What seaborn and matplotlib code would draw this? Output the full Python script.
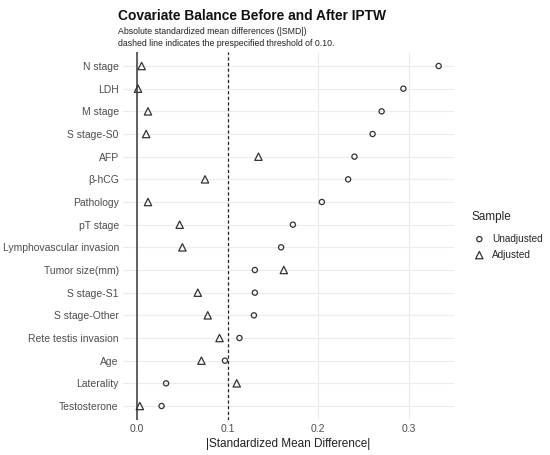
import matplotlib
matplotlib.use("Agg")
import matplotlib.pyplot as plt
import seaborn as sns
import pandas as pd

covariates = ["N stage", "LDH", "M stage", "S stage-S0", "AFP", "β-hCG", "Pathology",
              "pT stage", "Lymphovascular invasion", "Tumor size(mm)", "S stage-S1",
              "S stage-Other", "Rete testis invasion", "Age", "Laterality", "Testosterone"]
unadjusted = [0.333, 0.294, 0.270, 0.260, 0.240, 0.233, 0.204, 0.172, 0.159, 0.130,
              0.130, 0.129, 0.113, 0.097, 0.032, 0.027]
adjusted = [0.005, 0.001, 0.012, 0.010, 0.134, 0.075, 0.012, 0.047, 0.050, 0.162,
            0.067, 0.078, 0.091, 0.071, 0.110, 0.003]
x_ticks = [0.0, 0.1, 0.2, 0.3]
x_tick_labels = ["0.0", "0.1", "0.2", "0.3"]
threshold = 0.10

df = pd.DataFrame({
    "Covariate": covariates * 2,
    "SMD": unadjusted + adjusted,
    "Sample": ["Unadjusted"] * len(covariates) + ["Adjusted"] * len(covariates),
})

sns.set_theme(style="white")
plt.rcParams["font.family"] = ["Liberation Sans", "DejaVu Sans"]

fig = plt.figure(figsize=(5.5, 4.55), dpi=100)
ax = fig.add_axes([0.2236, 0.0778, 0.602, 0.807])

ax.axvline(0, color="#555555", lw=1.3, zorder=1)
ax.axvline(threshold, color="#222222", lw=0.9, ls=(0, (2.5, 2)), zorder=1)

edge = "#333333"
sns.scatterplot(data=df[df.Sample == "Unadjusted"], x="SMD", y="Covariate",
                marker="o", s=14, ax=ax, label="Unadjusted", zorder=3)
sns.scatterplot(data=df[df.Sample == "Adjusted"], x="SMD", y="Covariate",
                marker="^", s=28, ax=ax, label="Adjusted", zorder=3)
for coll in ax.collections:
    coll.set_facecolor("none")
    coll.set_edgecolor(edge)
    coll.set_linewidth(0.9)

n = len(covariates)
ax.set_ylim(n - 1 + 0.6, -0.6)
ax.set_xlim(-0.0156, 0.35)
ax.set_xticks(x_ticks)
ax.set_xticklabels(x_tick_labels)
ax.grid(True, color="#ececec", lw=0.8)
ax.set_axisbelow(True)
for s in ax.spines.values():
    s.set_visible(False)
ax.tick_params(axis="both", length=0, labelsize=7.5, colors="#4d4d4d", pad=3)
ax.set_ylabel("")
ax.set_xlabel("|Standardized Mean Difference|", fontsize=8.5, color="#222222", labelpad=3)

leg = ax.legend(title="Sample", loc="upper left", bbox_to_anchor=(1.04, 0.58),
                frameon=False, fontsize=7.2, title_fontsize=8.5,
                handletextpad=0.5, labelspacing=0.6, borderaxespad=0,
                handlelength=1.6)
leg._legend_box.align = "left"
leg._legend_box.sep = 8

fig.text(0.215, 0.955, "Covariate Balance Before and After IPTW", fontsize=9.9,
         fontweight="bold", color="#111111", ha="left", va="baseline")
fig.text(0.215, 0.900, "Absolute standardized mean differences (|SMD|)\n"
         "dashed line indicates the prespecified threshold of 0.10.",
         fontsize=6.3, color="#222222", ha="left", va="baseline", linespacing=1.3)

fig.savefig("out.png", dpi=100)
